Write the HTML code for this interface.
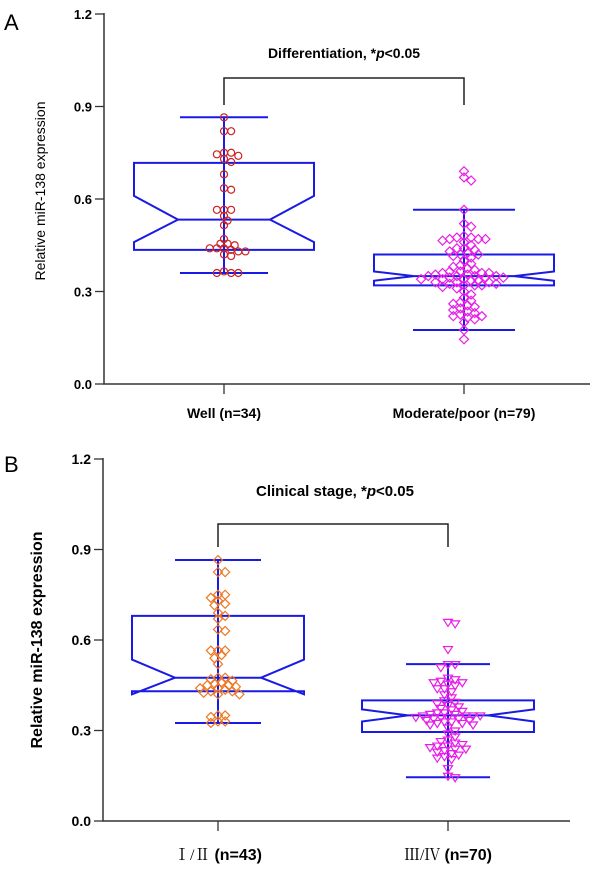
<!DOCTYPE html>
<html><head><meta charset="utf-8">
<style>
body{margin:0;background:#fff;}
svg{display:block;font-family:"Liberation Sans",Arial,sans-serif;}
</style></head>
<body>
<svg id="chart" width="600" height="871" viewBox="0 0 600 871"></svg>
<script>
// Panel A data
const catsA = ["Well (n=34)", "Moderate/poor (n=79)"];
const wellVals = [0.865,0.82,0.82,0.75,0.75,0.745,0.74,0.73,0.72,0.68,0.635,0.63,0.565,0.565,0.565,0.545,0.53,0.515,0.47,0.455,0.455,0.45,0.44,0.44,0.44,0.435,0.43,0.43,0.42,0.415,0.36,0.36,0.36,0.365];
const modVals = [0.69,0.67,0.66,0.565,0.52,0.51,0.48,0.475,0.475,0.47,0.47,0.47,0.465,0.46,0.45,0.44,0.44,0.435,0.43,0.425,0.42,0.42,0.415,0.41,0.4,0.39,0.385,0.38,0.375,0.37,0.365,0.365,0.36,0.36,0.36,0.355,0.355,0.35,0.35,0.35,0.35,0.345,0.345,0.345,0.34,0.34,0.34,0.335,0.335,0.33,0.33,0.33,0.325,0.325,0.32,0.32,0.32,0.315,0.31,0.3,0.29,0.28,0.27,0.265,0.26,0.255,0.25,0.245,0.24,0.235,0.23,0.225,0.22,0.22,0.215,0.21,0.2,0.175,0.145];
// box stats: [whiskerLow, Q1, notchLow, median, notchHigh, Q3, whiskerHigh]
const boxWell = [0.36,0.435,0.46,0.533,0.61,0.717,0.865];
const boxMod = [0.175,0.32,0.335,0.35,0.365,0.42,0.565];
// Panel B data
const catsB = ["Ⅰ/Ⅱ", "Ⅲ/Ⅳ"];
const nB = ["(n=43)", "(n=70)"];
const stage12 = [0.865,0.825,0.825,0.75,0.75,0.74,0.73,0.72,0.715,0.69,0.68,0.67,0.635,0.63,0.565,0.565,0.565,0.55,0.54,0.52,0.475,0.475,0.47,0.465,0.46,0.455,0.45,0.45,0.445,0.44,0.44,0.435,0.43,0.43,0.425,0.42,0.42,0.35,0.35,0.345,0.33,0.33,0.325];
const stage34 = [0.66,0.655,0.57,0.52,0.52,0.51,0.475,0.47,0.465,0.46,0.46,0.455,0.45,0.44,0.44,0.43,0.42,0.41,0.4,0.395,0.39,0.385,0.38,0.375,0.37,0.365,0.36,0.36,0.355,0.355,0.35,0.35,0.35,0.35,0.345,0.345,0.345,0.34,0.34,0.335,0.335,0.33,0.33,0.325,0.325,0.32,0.32,0.31,0.3,0.29,0.28,0.27,0.265,0.26,0.255,0.25,0.25,0.245,0.24,0.24,0.235,0.23,0.225,0.22,0.215,0.21,0.205,0.175,0.15,0.145];
const boxS12 = [0.325,0.43,0.42,0.475,0.535,0.68,0.865];
const boxS34 = [0.145,0.295,0.33,0.35,0.37,0.4,0.52];
const yTicks = [0,0.3,0.6,0.9,1.2];
const yTickLabels = ["0.0","0.3","0.6","0.9","1.2"];

const NS="http://www.w3.org/2000/svg";
const svg=document.getElementById('chart');
function mk(tag,attrs,parent){const e=document.createElementNS(NS,tag);for(const k in attrs)e.setAttribute(k,attrs[k]);(parent||svg).appendChild(e);return e;}

function panel(p){
  const g=mk('g',{});
  
  
  const y=v=>p.y0+(p.y12-p.y0)*v/1.2;
  const L=mk('text',{x:4,y:p.letterY,'font-size':22},g);L.textContent=p.letter;
  
  
  const ax=mk('path',{d:`M${p.ax},${y(1.2)-1}V${p.y0}H${p.axEnd}`,stroke:'#333',fill:'none','stroke-width':1.5},g);
  
  
  yTicks.forEach((t,i)=>{
    mk('line',{x1:p.ax-9,x2:p.ax,y1:y(t),y2:y(t),stroke:'#333','stroke-width':1.3},g);
    const tl=mk('text',{x:p.ax-12,y:y(t)+5,'text-anchor':'end','font-size':p.tickFs,'font-weight':'bold'},g);
    tl.textContent=yTickLabels[i];
    
    
  });
  const yt=mk('text',{transform:`translate(${p.ytx},${p.yty}) rotate(-90)`,'text-anchor':'middle','font-size':p.ytFs,'font-weight':p.ytW},g);
  yt.textContent='Relative miR-138 expression';
  
  
  p.groups.forEach((gr,i)=>{
    const cx=p.cx[i];
    mk('line',{x1:cx,x2:cx,y1:p.y0,y2:p.y0+10,stroke:'#333','stroke-width':1.3},g);
    const [wl,q1,nl,md,nh,q3,wh]=gr.box;
    const hw=gr.hw,nw=gr.nw,cw=gr.cw;
    const bg=mk('g',{},g);
    
    
    const st={stroke:'#1a1ae6',fill:'none','stroke-width':2};
    mk('line',Object.assign({x1:cx,x2:cx,y1:y(wl),y2:y(wh)},st),bg);
    mk('line',Object.assign({x1:cx-cw,x2:cx+cw,y1:y(wh),y2:y(wh)},st),bg);
    mk('line',Object.assign({x1:cx-cw,x2:cx+cw,y1:y(wl),y2:y(wl)},st),bg);
    const d=`M${cx-hw},${y(q3)}H${cx+hw}V${y(nh)}L${cx+nw},${y(md)}L${cx+hw},${y(nl)}V${y(q1)}H${cx-hw}V${y(nl)}L${cx-nw},${y(md)}L${cx-hw},${y(nh)}Z`;
    mk('path',Object.assign({d:d},st),bg);
    mk('line',Object.assign({x1:cx-nw,x2:cx+nw,y1:y(md),y2:y(md)},st),bg);
    const placed=[];const dia=gr.dia;
    const vals=gr.vals.slice().sort((a,b)=>b-a);
    vals.forEach(v=>{
      const py=y(v);let off=0;
      const cand=[0];for(let k=1;k<20;k++){cand.push(k*dia*0.55,-k*dia*0.55);}
      for(const c of cand){if(placed.every(q=>Math.hypot(q[0]-c,q[1]-py)>=dia*0.85)){off=c;break;}}
      placed.push([off,py]);
      const px=cx+off;let m;
      const r=gr.r;
      if(gr.shape==='circle') m=mk('circle',{cx:px,cy:py,r:r,fill:'none',stroke:gr.color,'stroke-width':1.2},g);
      else if(gr.shape==='diamond') m=mk('path',{d:`M${px},${py-r-1}L${px+r+1},${py}L${px},${py+r+1}L${px-r-1},${py}Z`,fill:'none',stroke:gr.color,'stroke-width':1.2},g);
      else m=mk('path',{d:`M${px-r-1},${py-r+1}H${px+r+1}L${px},${py+r+1}Z`,fill:'none',stroke:gr.color,'stroke-width':1.2},g);
      
      
    });
    const xl=mk('text',{x:cx,y:p.xlY,'text-anchor':'middle','font-size':p.xlFs,'font-weight':'bold'},g);
    if(p.roman){
      const a=mk('tspan',{'font-family':'"Liberation Serif","Noto Serif CJK SC",serif','font-weight':'normal'},xl);a.textContent=catsB[i]+' ';
      const b=mk('tspan',{},xl);b.textContent=nB[i];
    } else xl.textContent=catsA[i];
    
    
  });
  const br=mk('path',{d:`M${p.cx[0]},${p.brB}V${p.brT}H${p.cx[1]}V${p.brB}`,stroke:'#222',fill:'none','stroke-width':1.5},g);
  
  
  const tt=mk('text',{x:p.tX,y:p.tY,'text-anchor':'middle','font-size':p.tFs,'font-weight':'bold'},g);
  const t1=mk('tspan',{},tt);t1.textContent=p.title+', *';
  const t2=mk('tspan',{'font-style':'italic'},tt);t2.textContent='p';
  const t3=mk('tspan',{},tt);t3.textContent='<0.05';
  
  
}
panel({name:'panel-a',letter:'A',letterY:30,y0:384,y12:14,ax:104,axEnd:590,tickFs:13,ytx:45,yty:191,ytFs:14,ytW:'normal',
  cx:[224,464],xlY:418,xlFs:14,roman:false,brT:78,brB:105,tX:344,tY:58,tFs:14,title:'Differentiation',
  groups:[{vals:wellVals,box:boxWell,hw:90,nw:46,cw:44,color:'#cc2222',shape:'circle',r:3.5,dia:6.5},
          {vals:modVals,box:boxMod,hw:90,nw:50,cw:51,color:'#e81ee8',shape:'diamond',r:3.5,dia:6.5}]});
panel({name:'panel-b',letter:'B',letterY:472,y0:821,y12:459,ax:103,axEnd:570,tickFs:14,ytx:42,yty:640,ytFs:16,ytW:'bold',
  cx:[218,448],xlY:860,xlFs:16,roman:true,brT:524,brB:547,tX:335,tY:496,tFs:15,title:'Clinical stage',
  groups:[{vals:stage12,box:boxS12,hw:86,nw:43,cw:43,color:'#ee7722',shape:'diamond',r:3.5,dia:6.5},
          {vals:stage34,box:boxS34,hw:86,nw:40,cw:42,color:'#e81ee8',shape:'tri',r:3.5,dia:6.5}]});
</script>
</body></html>
